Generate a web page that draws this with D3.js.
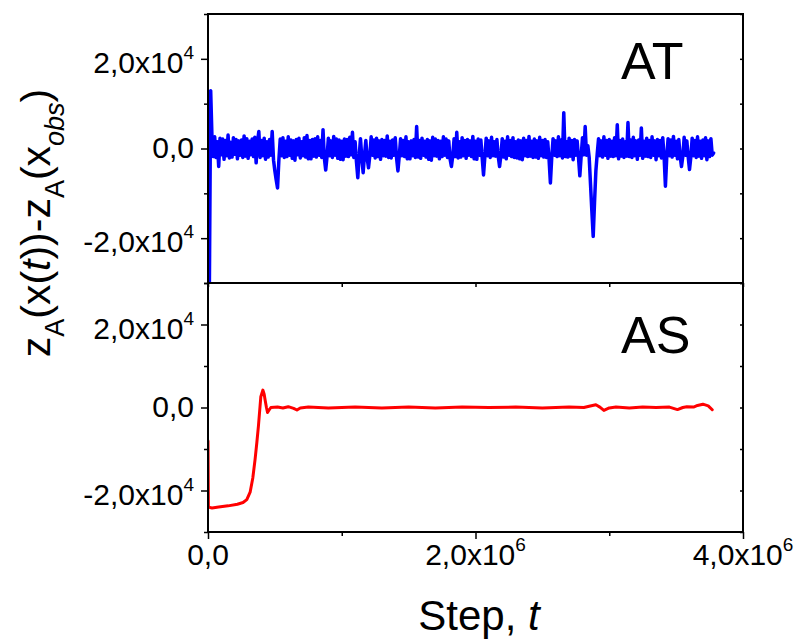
<!DOCTYPE html>
<html>
<head>
<meta charset="utf-8">
<script src="https://cdn.jsdelivr.net/npm/d3@7"></script>
<style>
  body { margin: 0; background: #fff; }
  svg { display: block; }
  text { font-family: "Liberation Sans", Arial, sans-serif; fill: #000; }
</style>
</head>
<body>
<svg id="chart" width="805" height="640"></svg>
<script>
/* z_A(x(t)) - z_A(x_obs) vs step: AT (top) e AS (bottom) */

// ---- data ----
const X_TICKS = [0, 2e6, 4e6];
const X_TICK_LABELS = [["0,0", ""], ["2,0x10", "6"], ["4,0x10", "6"]];
const X_MINOR = [1e6, 3e6];
const Y_TICKS = [-2e4, 0, 2e4];
const Y_TICK_LABELS = [["-2,0x10", "4"], ["0,0", ""], ["2,0x10", "4"]];
const Y_MINOR = [-3e4, -1e4, 1e4, 3e4];
const PANEL_NAMES = ["AT", "AS"];

// AT: one sample every AT_STEP steps
const AT_STEP = 10000;
const atZ = [
  -32000, -32000, 12900, 2200, -1800, 2600, -2000, 1500, -4000, 2300,
  -1400, 2100, -2400, 1800, -1600, 3000, -2100, 1400, -1900, 2400,
  -1300, 2000, -2300, 1700, -1500, 1900, -2000, 2800, -1700, 2200,
  -2200, 1600, -1400, 2100, -1800, 2500, -3200, 1500, 3800, -2000,
  1800, -1600, 2300, -2400, 1500, -1900, 2000, -1500, 3800, -2600,
  -5000, -7000, -8800, -2500, 2100, -1600, 2400, -2000, 1600, -1800,
  2600, -1500, 1900, -2200, 1700, -2600, 2000, -1400, 2300, -2100,
  1500, -1600, 2400, -1900, 2900, -2300, 1800, -2300, 2000, -1700,
  2200, -1900, 2600, -1500, 1800, -2000, 4200, -2200, -4800, -1800,
  2300, -1600, 1700, -2000, 2700, -1500, 2100, -2200, 1900, -2400,
  1600, -2500, 2100, -1700, 2000, -1800, 2500, -1400, 3600, -2000,
  1500, -3000, -6500, -1800, 2200, -2000, -5400, -1500, 1800, -2200,
  -4300, -1600, 2600, -1500, 1900, -2100, 2300, -1800, 1700, -2400,
  2000, -1600, 1800, -1700, 2800, -2000, 1600, -2100, 1900, -1500,
  2400, -2200, -5000, -1700, 2200, -1600, 1800, -1800, 2600, -2300,
  1500, -2300, 1700, -1600, 2000, -2000, 4900, -1900, 1800, -2200,
  2300, -1500, 1600, -1900, 2000, -2400, 1700, -2600, 2500, -1600,
  2100, -1700, 1800, -2300, 1600, -1800, 2600, -1500, 2100, -2000,
  1700, -2400, -4000, -1600, 2200, -1800, 3600, -2100, 1500, -1900,
  2400, -1600, 1800, -2200, 2000, -1500, 1700, -1800, 2700, -2300,
  1600, -2400, 2100, -1500, 1900, -2100, -5900, -1800, 2300, -1600,
  1700, -2000, 2500, -1600, 1500, -1700, 2000, -1800, -4000, -1500,
  2200, -1900, 1600, -2300, 2600, -1500, 1800, -1800, 2400, -2000,
  1500, -2100, 1900, -2300, 1700, -2500, 2300, -1600, 1800, -1800,
  2700, -1700, 1600, -2000, 2100, -1900, 1700, -2200, 2500, -1600,
  1800, -1900, 2000, -2000, 1500, -2400, -7700, -2000, 2200, -1500,
  1700, -1800, 2600, -1600, 1900, -2100, 8000, -1800, 1500, -1900,
  2300, -1700, 1800, -2500, 2000, -1500, 1700, -2000, -6100, -1700,
  2400, -1400, 4900, -1500, 600, -2000, -8000, -14000, -19600, -12000,
  -5000, -1200, 2200, -1600, 1700, -1900, 2600, -1500, 1800, -2200,
  2000, -1700, 1600, -1800, 2400, -1600, 5300, -2300, 1800, -1700,
  2100, -2000, 1500, -1700, 5800, -1800, 1900, -2000, 2500, -1600,
  1700, -2400, 1900, -1500, 4600, -2200, 1600, -1700, 2300, -1800,
  1800, -2000, 2600, -1500, 1700, -2500, 2000, -1600, 1800, -2100,
  2400, -1700, -8400, -1900, 2200, -1600, 1900, -1900, 2700, -1500,
  1600, -2300, 2000, -1700, -4000, -1800, 2500, -1500, 1700, -1800,
  -4700, -1900, 2300, -1600, 1800, -2000, 2600, -1700, 1600, -2200,
  1900, -1600, 2400, -2500, 1700, -1800, 2200, -1500, -1000
];

// AS: [step, value]
const asPoints = [
  [0, -8100], [3000, -24000], [30000, -24200], [80000, -24000],
  [150000, -23700], [220000, -23300], [262000, -22900], [290000, -22200],
  [315000, -20400], [335000, -17000], [352000, -12500], [365000, -8500],
  [377000, -4500], [395000, 2600], [410000, 4200], [420000, 3200],
  [427000, 1800], [437000, 0], [445000, -1200], [457000, -600],
  [470000, 0], [520000, 100], [560000, -100], [600000, 200],
  [640000, -200], [665000, -600], [690000, -100], [750000, 100],
  [900000, -100], [1100000, 100], [1300000, -100], [1500000, 100],
  [1700000, -100], [1900000, 100], [2100000, 0], [2300000, 100],
  [2500000, -100], [2700000, 100], [2810000, 0], [2850000, 300],
  [2900000, 650], [2930000, 100], [2960000, -700], [3000000, -100],
  [3050000, 100], [3150000, -100], [3250000, 100], [3350000, 0],
  [3450000, 100], [3510000, -500], [3550000, 0], [3580000, 200],
  [3630000, 100], [3660000, 500], [3700000, 800], [3740000, 400],
  [3770000, -550]
];

// ---- layout ----
const X0 = 208, X1 = 743;
const PANELS = [
  { top: 14, bottom: 283, color: "#0000ff", width: 3.5 },
  { top: 283, bottom: 532, color: "#ff0000", width: 3 }
];

const svg = d3.select("#chart");
const x = d3.scaleLinear().domain([0, 4e6]).range([X0, X1]);

const series = [
  atZ.map((z, i) => [i * AT_STEP, z]),
  asPoints
];

PANELS.forEach((p, k) => {
  const y = d3.scaleLinear().domain([-3e4, 3e4]).range([p.bottom, p.top]);

  svg.append("clipPath").attr("id", "clip" + k)
    .append("rect")
    .attr("x", X0).attr("y", p.top)
    .attr("width", X1 - X0).attr("height", p.bottom - p.top);

  const line = d3.line().x(d => x(d[0])).y(d => y(d[1]));
  svg.append("path")
    .datum(series[k])
    .attr("clip-path", `url(#clip${k})`)
    .attr("fill", "none")
    .attr("stroke", p.color)
    .attr("stroke-width", p.width)
    .attr("stroke-linejoin", "round")
    .attr("stroke-linecap", "round")
    .attr("d", line);

  // left axis: major + minor ticks, outward
  const gl = svg.append("g").attr("transform", `translate(${X0},0)`);
  gl.call(d3.axisLeft(y).tickValues(Y_TICKS).tickSize(7).tickFormat(""));
  gl.append("g").call(d3.axisLeft(y).tickValues(Y_MINOR).tickSize(4).tickFormat(""));

  // right axis: small inner ticks
  svg.append("g").attr("transform", `translate(${X1},0)`)
    .call(d3.axisRight(y).tickValues(Y_TICKS.concat(Y_MINOR)).tickSize(-3).tickFormat(""));

  svg.selectAll("g .domain").remove();

  // y tick labels
  Y_TICKS.forEach((v, i) => {
    const [m, e] = Y_TICK_LABELS[i];
    const t = svg.append("text")
      .attr("text-anchor", "end")
      .attr("x", X0 - 14)
      .attr("y", y(v) + (e ? 14 : 9))
      .style("font-size", "30px");
    t.append("tspan").text(m);
    if (e) t.append("tspan").attr("dy", -14).style("font-size", "19px").text(e);
  });

  // frame
  svg.append("rect")
    .attr("x", X0).attr("y", p.top)
    .attr("width", X1 - X0).attr("height", p.bottom - p.top)
    .attr("fill", "none").attr("stroke", "#000").attr("stroke-width", 2);

  svg.append("text")
    .attr("x", 621)
    .attr("y", k === 0 ? 79 : 353)
    .style("font-size", "52px")
    .text(PANEL_NAMES[k]);
});

// ticks on the shared middle line (pointing up into the top panel)
svg.append("g").attr("transform", `translate(0,${PANELS[0].bottom})`)
  .call(d3.axisTop(x).tickValues(X_TICKS.concat(X_MINOR)).tickSize(-4).tickFormat(""))
  .select(".domain").remove();

// bottom axis
const gb = svg.append("g").attr("transform", `translate(0,${PANELS[1].bottom})`);
gb.call(d3.axisBottom(x).tickValues(X_TICKS).tickSize(7).tickFormat(""));
gb.append("g").call(d3.axisBottom(x).tickValues(X_MINOR).tickSize(4).tickFormat(""));
gb.selectAll(".domain").remove();
svg.selectAll(".tick line").attr("stroke", "#000").attr("stroke-width", 1.5);

X_TICKS.forEach((v, i) => {
  const [m, e] = X_TICK_LABELS[i];
  const t = svg.append("text")
    .attr("text-anchor", "middle")
    .attr("x", x(v))
    .attr("y", 565)
    .style("font-size", "30px");
  t.append("tspan").text(m);
  if (e) t.append("tspan").attr("dy", -14).style("font-size", "19px").text(e);
});

// axis titles
const xt = svg.append("text")
  .attr("text-anchor", "middle")
  .attr("x", 479).attr("y", 630)
  .style("font-size", "42px");
xt.append("tspan").text("Step, ");
xt.append("tspan").style("font-style", "italic").text("t");

const yt = svg.append("text")
  .attr("text-anchor", "middle")
  .attr("transform", "translate(50,223) rotate(-90)")
  .style("font-size", "41px");
const SUB = 14;
const parts = [
  ["z", ""], ["A", "sub"], ["(", ""], ["x", ""], ["(", ""], ["t", "i"], [")", ""], [")", ""],
  ["-", ""], ["z", ""], ["A", "sub"], ["(", ""], ["x", ""], ["obs", "subi"], [")", ""]
];
let shifted = false;
parts.forEach(([s, kind]) => {
  const ts = yt.append("tspan").text(s);
  const isSub = kind === "sub" || kind === "subi";
  if (isSub && !shifted) { ts.attr("dy", SUB); shifted = true; }
  else if (!isSub && shifted) { ts.attr("dy", -SUB); shifted = false; }
  if (isSub) ts.style("font-size", "27px");
  if (kind === "i" || kind === "subi") ts.style("font-style", "italic");
});
</script>
</body>
</html>
